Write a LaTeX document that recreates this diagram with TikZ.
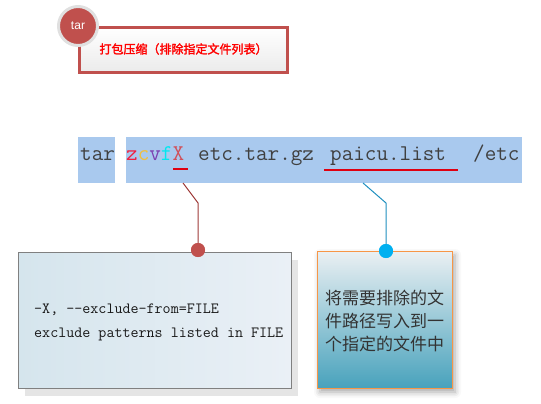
\documentclass[tikz,border=0pt]{standalone}
\usepackage{fontspec}
\newfontfamily\cjk{Noto Sans CJK SC}
\newfontfamily\cjkb{Noto Sans CJK SC}[FakeBold=2]
\newfontfamily\arialf{Liberation Sans}
\usetikzlibrary{shadows,shadows.blur}
\definecolor{redbrown}{HTML}{C0504D}
\definecolor{hilite}{HTML}{A9C9EE}
\definecolor{cmdtxt}{HTML}{404040}
\definecolor{conred}{HTML}{9E3A38}
\definecolor{conblue}{HTML}{1F8FBF}
\definecolor{dotblue}{HTML}{00B0F0}
\definecolor{boxorange}{HTML}{F79646}
\definecolor{zred}{HTML}{F02040}
\definecolor{cyel}{HTML}{F0C040}
\definecolor{vpur}{HTML}{7A3FB0}
\definecolor{fcyan}{HTML}{00E8F0}
\definecolor{xred}{HTML}{D0505A}
\definecolor{ulred}{HTML}{E00010}
\definecolor{boxoneL}{HTML}{D5E5ED}
\definecolor{boxoneR}{HTML}{EAF0F6}
\definecolor{boxtwoT}{HTML}{EBF0F3}
\definecolor{boxtwoB}{HTML}{48A2BC}
\tikzset{
  hl/.style={fill=hilite, draw=none},
  cmd/.style={inner sep=0pt, anchor=base west, text=cmdtxt, font=\ttfamily\fontsize{22.5}{27}\selectfont},
  conn/.style={line width=1pt},
  dot/.style={circle, minimum size=14pt, inner sep=0pt, draw=none},
}
\begin{document}
\begin{tikzpicture}[x=1pt,y=-1pt]
\useasboundingbox (0,0) rectangle (541,404);
% title
\node[draw=redbrown, line width=3pt, top color=white, bottom color=black!8,
      minimum width=208pt, minimum height=45pt, inner sep=0pt] (title) at (183.5,50) {};
\node[text=red, font=\cjkb\fontsize{12}{14}\selectfont, inner sep=0pt] (titletext) at (183.5,49) {打包压缩（排除指定文件列表）};
\node[circle, fill=redbrown, draw=black!12, line width=3pt, minimum size=39pt, inner sep=0pt,
      text=white, font=\arialf\fontsize{12}{14}\selectfont] (tarbadge) at (78,26) {tar};
% command highlight
\fill[hilite] (78,137) rectangle (115,183);
\fill[hilite] (126,137) rectangle (522,183);
\node[cmd] (w1) at (80,160) {tar};
\node[cmd] (w2) at (126,160) {\textcolor{zred}{z}\textcolor{cyel}{c}\textcolor{vpur}{v}\textcolor{fcyan}{f}\textcolor{xred}{X}};
\node[cmd] (w3) at (198,160) {etc.tar.gz};
\node[cmd] (w4) at (330,160) {paicu.list};
\node[cmd] (w5) at (473,160) {/etc};
\draw[ulred, line width=1.2pt] (173,169) -- (188,169);
\draw[ulred, line width=1.2pt] (324,170) -- (458,170);
% box 1
\node[draw=black!50, line width=0.8pt, left color=boxoneL, right color=boxoneR,
      minimum width=273pt, minimum height=136pt, inner sep=0pt,
      drop shadow={shadow xshift=7pt, shadow yshift=-8pt, fill=black!10, opacity=1}] (box1) at (154.5,320) {};
\node[anchor=west, align=left, inner sep=0pt, text=black!90, font=\ttfamily\fontsize{15.6}{24}\selectfont] (box1text) at (34,322)
  {-X, -{}-exclude-from=FILE\\exclude patterns listed in FILE};
% box 2
\node[draw=boxorange, line width=0.8pt, top color=boxtwoT, bottom color=boxtwoB,
      minimum width=135pt, minimum height=137pt, inner sep=0pt,
      blur shadow={shadow xshift=3pt, shadow yshift=-4pt, shadow blur radius=6pt, shadow opacity=35}] (box2) at (384.5,319.5) {};
\node[align=center, inner sep=0pt, text=black!80, font=\cjk\fontsize{17}{23}\selectfont] (box2text) at (384.5,321)
  {将需要排除的文\\件路径写入到一\\个指定的文件中};
% connectors
\coordinate (c1a) at (183,183);
\coordinate (c1b) at (198,203);
\node[dot, fill=redbrown] (d1) at (198,250) {};
\draw[conn, conred] (c1a) -- (c1b) -- (d1.center);
\node[dot, fill=redbrown] at (d1) {};
\coordinate (c2a) at (363,183);
\coordinate (c2b) at (386,203);
\node[dot, fill=dotblue] (d2) at (386,251) {};
\draw[conn, conblue] (c2a) -- (c2b) -- (d2.center);
\node[dot, fill=dotblue] at (d2) {};
\end{tikzpicture}
\end{document}
